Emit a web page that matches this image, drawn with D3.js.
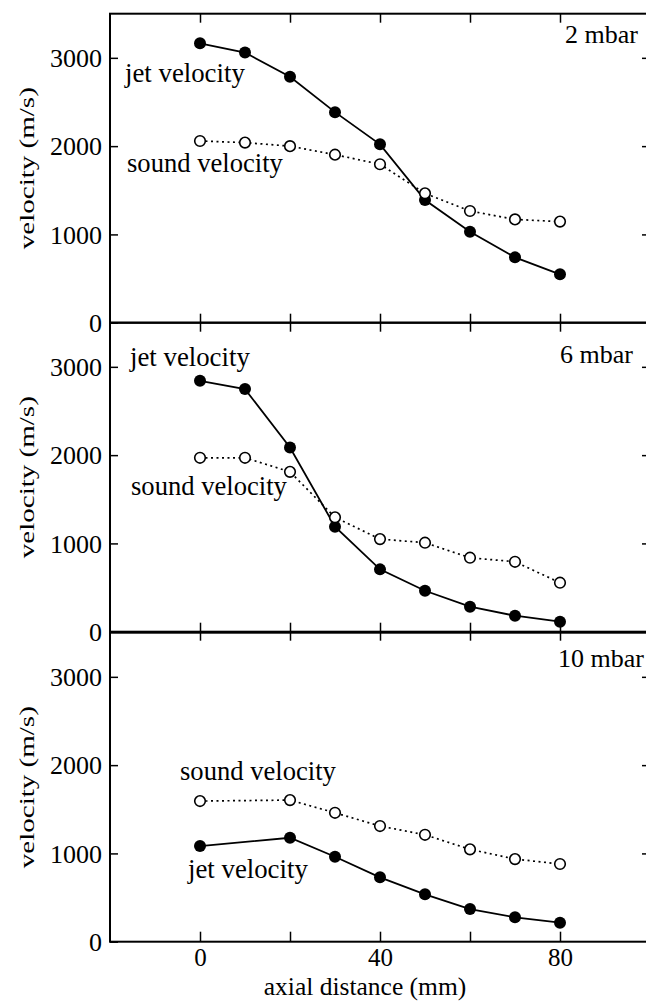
<!DOCTYPE html>
<html>
<head>
<meta charset="utf-8">
<script src="https://cdn.jsdelivr.net/npm/d3@7"></script>
<style>
  html, body { margin: 0; padding: 0; background: #fff; }
  svg { display: block; }
  svg text { font-family: "Liberation Serif", "Times New Roman", "DejaVu Serif", serif; fill: #000; }
</style>
</head>
<body>
<script>
// Axial positions (mm) of the measurement points
const distances = [0, 10, 20, 30, 40, 50, 60, 70, 80];
const distances10 = [0, 20, 30, 40, 50, 60, 70, 80];

// Chamber pressures, one panel each
const pressures = ["2 mbar", "6 mbar", "10 mbar"];

// Velocities (m/s)
const jet2 = [3165, 3060, 2785, 2385, 2020, 1390, 1030, 740, 548];
const sound2 = [2058, 2040, 2000, 1903, 1795, 1465, 1265, 1170, 1145];
const jet6 = [2842, 2748, 2087, 1190, 706, 464, 283, 181, 113];
const sound6 = [1970, 1970, 1811, 1295, 1049, 1008, 838, 792, 555];
const jet10 = [1083, 1177, 962, 729, 537, 370, 276, 215];
const sound10 = [1593, 1604, 1460, 1310, 1211, 1046, 936, 880];

// Axis ticks
const yTicks = [0, 1000, 2000, 3000];
const xTicks = [0, 20, 40, 60, 80];
const xTickLabels = [0, 40, 80];

const FONT = "Liberation Serif";
const W = 646, H = 1001;
const svg = d3.select("body").append("svg").attr("width", W).attr("height", H)
  .attr("font-family", FONT);

const x = d3.scaleLinear().domain([-20, 100]).range([110, 650]);

const panels = [
  { label: pressures[0], xs: distances, jet: jet2, sound: sound2, zero: 322.7,
    jetLab: [125, 82], soundLab: [127, 172], pLab: [565, 43] },
  { label: pressures[1], xs: distances, jet: jet6, sound: sound6, zero: 631.7,
    jetLab: [130, 366], soundLab: [131, 495], pLab: [560, 363] },
  { label: pressures[2], xs: distances10, jet: jet10, sound: sound10, zero: 941.7,
    jetLab: [188, 878], soundLab: [180, 780], pLab: [558, 667] }
];
const panelH = 309;

function styleTicks(sel, size) {
  sel.select(".domain").remove();
  sel.attr("font-family", FONT);
  sel.selectAll("line").attr("stroke-width", 1.5);
  sel.selectAll("text").attr("font-size", size || 26).attr("font-family", FONT);
}

panels.forEach((p, i) => {
  const y = d3.scaleLinear().domain([0, 3500]).range([p.zero, p.zero - panelH]);
  const g = svg.append("g");
  const top = y(3500), bot = y(0);

  // frame
  g.append("rect")
    .attr("x", x(-20)).attr("y", top)
    .attr("width", x(100) - x(-20)).attr("height", bot - top)
    .attr("fill", "none").attr("stroke", "#000").attr("stroke-width", 2);

  // left axis: inward ticks, labels outside
  const left = g.append("g").attr("transform", `translate(${x(-20)},0)`)
    .call(d3.axisLeft(y).tickValues(yTicks).tickSizeInner(-8).tickSizeOuter(0)
      .tickPadding(8).tickFormat(d3.format("d")));
  styleTicks(left);
  left.selectAll("text").attr("dy", "0.33em");

  // right axis: inward ticks only
  const right = g.append("g").attr("transform", `translate(${x(100)},0)`)
    .call(d3.axisRight(y).tickValues(yTicks.slice(1)).tickSizeInner(-8).tickSizeOuter(0).tickFormat(""));
  styleTicks(right);

  // top ticks for the first panel (inward)
  if (i === 0) {
    const t = g.append("g").attr("transform", `translate(0,${top})`)
      .call(d3.axisTop(x).tickValues(xTicks).tickSizeInner(-9).tickSizeOuter(0).tickFormat(""));
    styleTicks(t);
  }

  if (i < 2) {
    // shared boundary: ticks crossing the line
    [d3.axisBottom, d3.axisTop].forEach(ax => {
      const a = g.append("g").attr("transform", `translate(0,${bot})`)
        .call(ax(x).tickValues(xTicks).tickSizeInner(9).tickSizeOuter(0).tickFormat(""));
      styleTicks(a);
    });
  } else {
    const b = g.append("g").attr("transform", `translate(0,${bot})`)
      .call(d3.axisBottom(x).tickValues(xTicks).tickSizeInner(-10).tickSizeOuter(0).tickPadding(7)
        .tickFormat(d => xTickLabels.includes(d) ? d3.format("d")(d) : ""));
    styleTicks(b, 25);
  }

  // y axis title
  g.append("text")
    .attr("transform", `translate(26,${y(1750)}) rotate(-90)`)
    .attr("text-anchor", "middle").attr("dominant-baseline", "central")
    .attr("font-size", 22).attr("font-family", FONT)
    .attr("textLength", 162).attr("lengthAdjust", "spacingAndGlyphs")
    .text("velocity (m/s)");

  const jetPts = p.xs.map((d, k) => [d, p.jet[k]]);
  const soundPts = p.xs.map((d, k) => [d, p.sound[k]]);
  const line = d3.line().x(d => x(d[0])).y(d => y(d[1]));

  g.append("path").datum(jetPts).attr("d", line)
    .attr("fill", "none").attr("stroke", "#000").attr("stroke-width", 1.8);
  g.selectAll(".jet").data(jetPts).join("circle")
    .attr("cx", d => x(d[0])).attr("cy", d => y(d[1])).attr("r", 6).attr("fill", "#000");

  g.append("path").datum(soundPts).attr("d", line)
    .attr("fill", "none").attr("stroke", "#000").attr("stroke-width", 1.7)
    .attr("stroke-dasharray", "2,3.5");
  g.selectAll(".snd").data(soundPts).join("circle")
    .attr("cx", d => x(d[0])).attr("cy", d => y(d[1])).attr("r", 5.3)
    .attr("fill", "#fff").attr("stroke", "#000").attr("stroke-width", 1.6);

  // series and pressure labels
  const lab = (pos, s, size) => g.append("text").attr("x", pos[0]).attr("y", pos[1])
    .attr("font-size", size).attr("font-family", FONT).text(s);
  lab(p.jetLab, "jet velocity", 26.8);
  lab(p.soundLab, "sound velocity", 26.6);
  lab(p.pLab, p.label, 26);
});

// x axis title
svg.append("text")
  .attr("x", 365).attr("y", 995)
  .attr("text-anchor", "middle").attr("font-size", 25.5).attr("font-family", FONT)
  .text("axial distance (mm)");
</script>
</body>
</html>
